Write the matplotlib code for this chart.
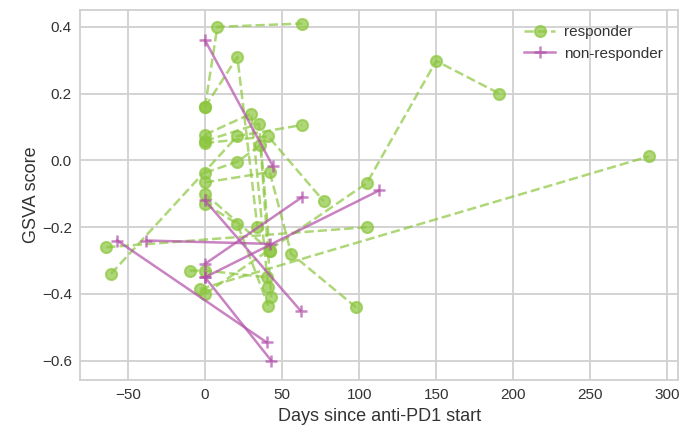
import matplotlib
matplotlib.use("Agg")
import matplotlib.pyplot as plt
from matplotlib.lines import Line2D

# Responder patients: days since anti-PD1 start and GSVA scores (one list per patient)
resp_days = [
    [0, 8, 63],
    [0, 21, 34],
    [-61, 21, 63],
    [-64, 105],
    [-3, 288],
    [0, 105, 150, 191],
    [0, 30, 41],
    [0, 35, 42],
    [0, 41, 77],
    [0, 21, 36, 43],
    [0, 42, 56, 98],
    [0, 42],
    [0, 21, 41],
    [-10, 0, 40],
]
resp_scores = [
    [0.16, 0.40, 0.41],
    [0.16, 0.31, -0.20],
    [-0.34, 0.073, 0.106],
    [-0.26, -0.20],
    [-0.385, 0.012],
    [-0.40, -0.068, 0.298, 0.20],
    [0.077, 0.14, -0.38],
    [0.058, 0.11, -0.27],
    [0.052, 0.072, -0.122],
    [-0.037, -0.004, 0.046, -0.41],
    [-0.066, -0.035, -0.28, -0.44],
    [-0.10, -0.27],
    [-0.13, -0.19, -0.435],
    [-0.33, -0.33, -0.35],
]

# Non-responder patients
nonresp_days = [
    [0, 44],
    [-57, 40],
    [-38, 42],
    [0, 63],
    [0, 113],
    [0, 43],
    [0, 62],
]
nonresp_scores = [
    [0.36, -0.017],
    [-0.24, -0.545],
    [-0.24, -0.25],
    [-0.31, -0.11],
    [-0.35, -0.09],
    [-0.35, -0.60],
    [-0.12, -0.45],
]

labels = ["responder", "non-responder"]

plt.rcParams['font.family'] = ['Liberation Sans', 'DejaVu Sans']

GREEN = '#8cc63f'
PURPLE = '#b24fa8'

fig = plt.figure(figsize=(6.97, 4.28), dpi=100)
ax = fig.add_axes([0.115, 0.112, 0.858, 0.865])
ax.set_facecolor('white')

for d, s in zip(resp_days, resp_scores):
    ax.plot(d, s, linestyle='--', color=GREEN, alpha=0.7, linewidth=1.8,
            marker='o', markersize=8, markerfacecolor=GREEN,
            markeredgecolor=GREEN, markeredgewidth=1.5, zorder=2)

for d, s in zip(nonresp_days, nonresp_scores):
    ax.plot(d, s, linestyle='-', color=PURPLE, alpha=0.7, linewidth=1.8,
            marker='+', markersize=8, markeredgewidth=1.8, zorder=3)

ax.set_xlim(-81, 307)
ax.set_ylim(-0.658, 0.451)
ax.set_xticks([-50, 0, 50, 100, 150, 200, 250, 300])
ax.set_yticks([-0.6, -0.4, -0.2, 0.0, 0.2, 0.4])
ax.set_yticklabels(['\u22120.6', '\u22120.4', '\u22120.2', '0.0', '0.2', '0.4'])
ax.set_xticklabels(['\u221250', '0', '50', '100', '150', '200', '250', '300'])

ax.grid(True, color='#d0d0d0', linewidth=1.3)
ax.set_axisbelow(True)
for sp in ax.spines.values():
    sp.set_color('#d0d0d0')
    sp.set_linewidth(1.3)
ax.tick_params(axis='both', length=0, labelsize=11, colors='#333333', pad=6)

ax.set_xlabel('Days since anti-PD1 start', fontsize=13, color='#333333')
ax.set_ylabel('GSVA score', fontsize=13, color='#333333', labelpad=1)

handles = [
    Line2D([], [], linestyle='--', color=GREEN, alpha=0.7, linewidth=1.8,
           marker='o', markersize=8, markeredgewidth=1.5),
    Line2D([], [], linestyle='-', color=PURPLE, alpha=0.7, linewidth=1.8,
           marker='+', markersize=8, markeredgewidth=1.8),
]
leg = ax.legend(handles, labels, loc='upper right', frameon=False, fontsize=11,
                labelcolor='#333333', handlelength=2.0, handletextpad=0.6,
                borderaxespad=0.6)

fig.savefig('out.png', dpi=100)
